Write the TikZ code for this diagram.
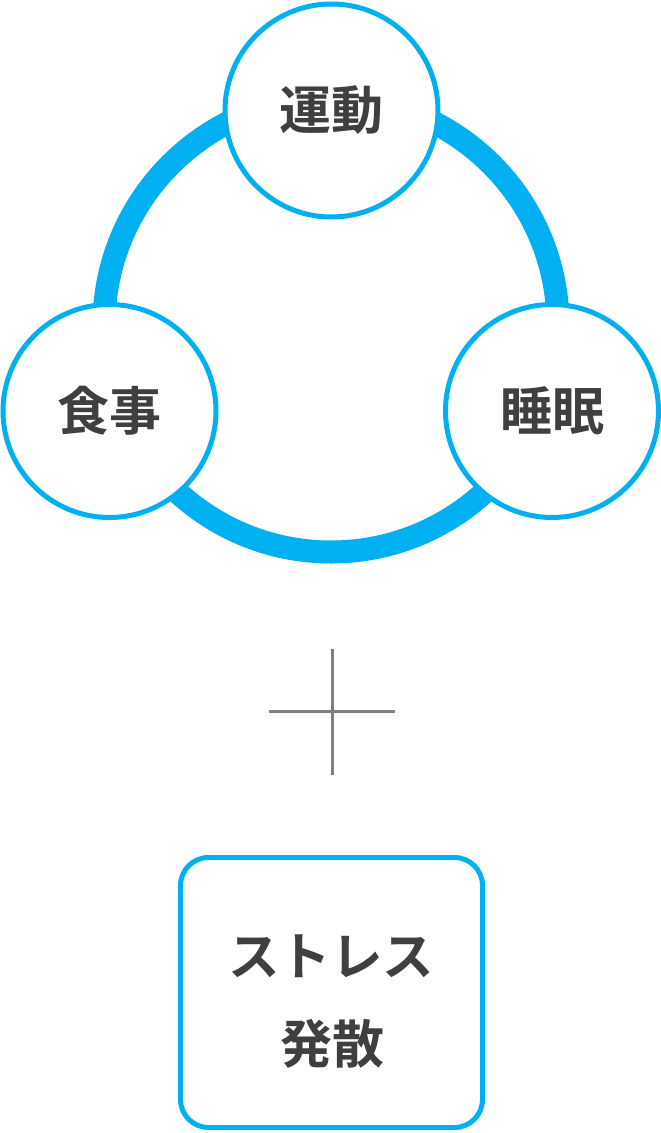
\documentclass[tikz,border=0pt]{standalone}
\usepackage{fontspec}
\newfontfamily\jp[BoldFont={Noto Sans CJK JP Bold}]{Noto Sans CJK JP}
\definecolor{skyblue}{HTML}{00B0F0}
\definecolor{ink}{HTML}{3F3F3F}
\definecolor{plusgray}{HTML}{808080}
\begin{document}
\begin{tikzpicture}[x=1pt,y=-1pt,
  ring/.style={draw=skyblue,line width=23pt},
  topic/.style={circle,draw=skyblue,fill=white,line width=5pt,minimum size=213pt,inner sep=0pt,
    text=ink,font=\jp\bfseries\fontsize{52}{56}\selectfont},
  stressbox/.style={draw=skyblue,fill=white,line width=5pt,rounded corners=28pt,
    minimum width=302pt,minimum height=270pt,inner sep=0pt},
  boxtext/.style={text=ink,inner sep=0pt,font=\jp\bfseries\fontsize{#1}{#1}\selectfont},
  plusline/.style={draw=plusgray,line width=2.6pt}]
\useasboundingbox (0,0) rectangle (661,1133);
\coordinate (ringc) at (331,325);
\draw[ring] (ringc) circle[radius=227];
\node[topic] (undo) at (331.5,110.5) {\raisebox{-3pt}{運動}};
\node[topic] (shokuji) at (109.5,411) {\raisebox{-3.5pt}{食事}};
\node[topic] (suimin) at (552,411) {\raisebox{-3.5pt}{睡眠}};
\coordinate (pt) at (332.3,649);
\coordinate (pb) at (332.3,775);
\coordinate (pl) at (269.3,711.3);
\coordinate (pr) at (395,711.3);
\draw[plusline] (pt) -- (pb);
\draw[plusline] (pl) -- (pr);
\node[stressbox] (box) at (331.5,992.5) {};
\node[boxtext=51.5] (stress) at (331,956) {ストレス};
\node[boxtext=52] (hassan) at (332,1044) {発散};
\end{tikzpicture}
\end{document}
